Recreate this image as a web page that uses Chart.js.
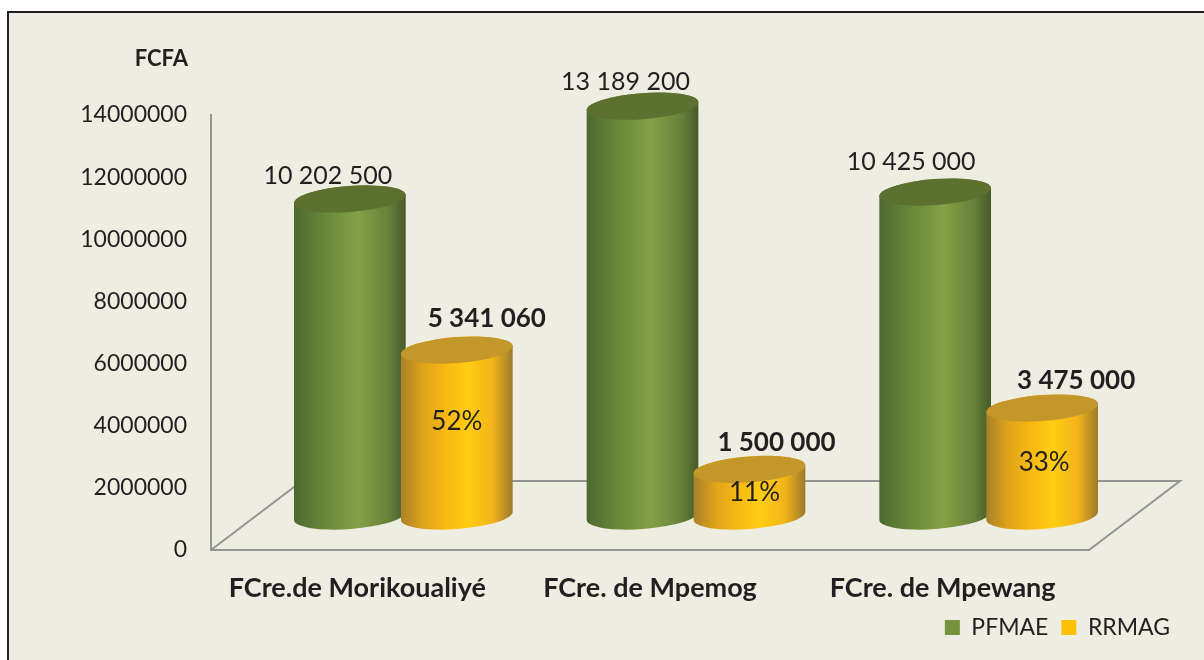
<!DOCTYPE html>
<html lang="en">
<head>
    <meta charset="UTF-8">
    <title>PFMAE / RRMAG</title>
    <style>
        body { margin: 0; background: #fff; }
        #panel { position: absolute; left: 7px; top: 11px; width: 1197px; height: 649px; box-sizing: border-box;
                 border-left: 2px solid #231f20; border-top: 2px solid #231f20; background: #eeede2; }
        canvas { position: absolute; left: 0; top: 0; }
    </style>
</head>
<body>
    <div id="panel"></div>
    <canvas id="myChart" width="1204" height="660"></canvas>

    <script src="https://cdn.jsdelivr.net/npm/chart.js"></script>

    <script>
        const categories = ["FCre.de Morikoualiyé", "FCre. de Mpemog", "FCre. de Mpewang"];
        const pfmae = [10202500, 13189200, 10425000];
        const rrmag = [5341060, 1500000, 3475000];
        const shares = ["52%", "11%", "33%"];

        const yMax = 14000000;
        const yStep = 2000000;

        const font = "Lato, sans-serif";
        const textColor = "#231f20";
        const axisColor = "#949494";

        // the 3D look: bars stand in the middle of a floor that goes back from the axis
        const floorX = 91, floorY = 69;
        const shiftX = 46, shiftY = 34;
        const tilt = -0.075, capHeight = 13;

        // left colour -> right colour of each cylinder, and its lid
        const greenStops = [[0, "#4c6a30"], [0.3, "#6b8a3a"], [0.58, "#84a145"], [0.85, "#66803a"], [1, "#465a28"]];
        const yellowStops = [[0, "#a9802a"], [0.2, "#e0a41a"], [0.4, "#f8b912"], [0.6, "#ffcd12"], [0.82, "#f2b31a"], [1, "#9a7a2c"]];
        const lids = ["#5c7030", "#c39729"];

        // label nudges from the top of each cylinder
        const valueNudge = [
            [[-22, -23], [-17, -24], [-24, -30]],
            [[30, -31], [27, -27], [34, -27]]
        ];
        const shareNudge = [[0, -11], [5, 0], [2, 1]];

        function spaced(v) {
            return String(v).replace(/\B(?=(\d{3})+$)/g, " ");
        }

        function drawCylinder(c, el, stops, lid) {
            const rx = el.width / 2;
            const cx = el.x + shiftX;
            const top = el.y - shiftY;
            const base = el.base - shiftY;

            const grad = c.createLinearGradient(cx - rx, 0, cx + rx, 0);
            stops.forEach(s => grad.addColorStop(s[0], s[1]));

            c.beginPath();
            c.ellipse(cx, top, rx, capHeight, tilt, Math.PI, 0, false);
            c.ellipse(cx, base, rx, capHeight, tilt, 0, Math.PI, false);
            c.closePath();
            c.fillStyle = grad;
            c.fill();

            c.beginPath();
            c.ellipse(cx, top, rx, capHeight, tilt, 0, Math.PI * 2);
            c.fillStyle = lid;
            c.fill();
        }

        const cylinders = {
            id: "cylinders",
            beforeDatasetsDraw(chart) {
                const c = chart.ctx;
                const a = chart.chartArea;
                const m0 = chart.getDatasetMeta(0).data;
                const m1 = chart.getDatasetMeta(1).data;

                c.save();

                // floor outline
                c.strokeStyle = axisColor;
                c.lineWidth = 2;
                c.beginPath();
                c.moveTo(a.left, a.bottom);
                c.lineTo(a.left + floorX, a.bottom - floorY);
                c.lineTo(a.right + floorX, a.bottom - floorY);
                c.lineTo(a.right, a.bottom);
                c.stroke();

                // bars
                categories.forEach((name, i) => {
                    drawCylinder(c, m0[i], greenStops, lids[0]);
                    drawCylinder(c, m1[i], yellowStops, lids[1]);
                });

                // labels
                c.fillStyle = textColor;
                c.textAlign = "center";
                c.textBaseline = "middle";
                categories.forEach((name, i) => {
                    c.font = "25px " + font;
                    c.fillText(spaced(pfmae[i]), m0[i].x + shiftX + valueNudge[0][i][0], m0[i].y - shiftY + valueNudge[0][i][1]);
                    c.font = "bold 26px " + font;
                    c.fillText(spaced(rrmag[i]), m1[i].x + shiftX + valueNudge[1][i][0], m1[i].y - shiftY + valueNudge[1][i][1]);
                    c.font = "26px " + font;
                    c.fillText(shares[i], m1[i].x + shiftX + shareNudge[i][0], (m1[i].y + m1[i].base) / 2 - shiftY + shareNudge[i][1]);
                });

                c.font = "bold 22px " + font;
                c.textAlign = "right";
                c.fillText("FCFA", 188, 59);

                c.restore();
                return false;
            }
        };

        new Chart(document.getElementById("myChart"), {
            type: "bar",
            data: {
                labels: categories,
                datasets: [
                    { label: "PFMAE", data: pfmae, backgroundColor: "#76923c" },
                    { label: "RRMAG", data: rrmag, backgroundColor: "#ffc000" }
                ]
            },
            options: {
                responsive: false,
                animation: false,
                categoryPercentage: 0.731,
                barPercentage: 1.047,
                layout: { padding: { top: 115, right: 21, bottom: 11, left: 0 } },
                scales: {
                    x: {
                        grid: { display: false, drawTicks: false },
                        border: { color: axisColor, width: 2 },
                        ticks: { color: textColor, font: { family: font, size: 27, weight: "bold" }, padding: 22, maxRotation: 0 },
                        afterFit(s) { s.height = 53; }
                    },
                    y: {
                        min: 0,
                        max: yMax,
                        grid: { display: false, drawTicks: false },
                        border: { color: axisColor, width: 2 },
                        ticks: { stepSize: yStep, color: textColor, font: { family: font, size: 23 }, padding: 24, callback: v => v },
                        afterFit(s) { s.width = 211; }
                    },
                    // keeps the plot clear of the floor corner, legend still runs to the right
                    side: {
                        type: "linear",
                        position: "right",
                        grid: { display: false, drawTicks: false },
                        border: { display: false },
                        ticks: { display: false },
                        afterFit(s) { s.width = 94; }
                    }
                },
                plugins: {
                    tooltip: { enabled: false },
                    legend: {
                        position: "bottom",
                        align: "end",
                        labels: { boxWidth: 15, boxHeight: 15, padding: 13, color: textColor, font: { family: font, size: 23 } }
                    }
                }
            },
            plugins: [cylinders]
        });
    </script>
</body>
</html>
